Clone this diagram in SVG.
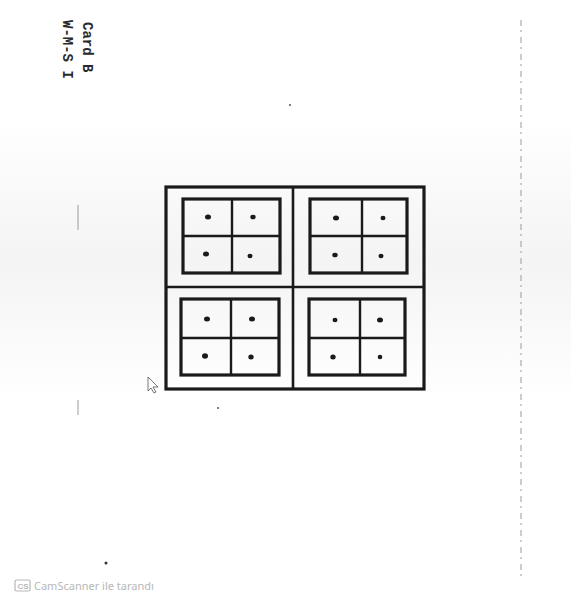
<svg xmlns="http://www.w3.org/2000/svg" width="571" height="597" viewBox="0 0 571 597">
  <defs>
    <style>
      .frame { fill: none; stroke: #1a1a1a; stroke-width: 3.2; }
      .div { fill: none; stroke: #1a1a1a; stroke-width: 2.6; }
      .inner { fill: none; stroke: #1a1a1a; stroke-width: 3.2; }
      .mid { stroke: #1a1a1a; stroke-width: 2.4; }
      .dot { fill: #1a1a1a; }
      .label { font-family: "Liberation Mono", "DejaVu Sans Mono", monospace; font-size: 14px; font-weight: bold; fill: #2a2a2a; }
      .wm { font-family: "Noto Sans", "Liberation Sans", sans-serif; font-size: 11px; fill: #b8b8b8; }
      .faint { stroke: #9a9a9a; stroke-width: 1; fill: none; }
    </style>
    <linearGradient id="scan" x1="0" y1="0" x2="0" y2="1">
      <stop offset="0" stop-color="#ffffff"/>
      <stop offset="0.5" stop-color="#f1f1f1"/>
      <stop offset="1" stop-color="#ffffff"/>
    </linearGradient>
  </defs>
  <rect x="0" y="0" width="571" height="597" fill="#ffffff"/>
  <rect x="0" y="120" width="571" height="280" fill="url(#scan)" opacity="0.8"/>

  <g id="labels">
    <text class="label" transform="translate(83,22) rotate(90)">Card B</text>
    <text class="label" transform="translate(63,20) rotate(90)">W-M-S I</text>
  </g>

  <g id="card">
    <rect class="frame" x="166" y="187" width="258" height="202"/>
    <line class="div" x1="293" y1="187" x2="293" y2="389"/>
    <line class="div" x1="166" y1="287" x2="424" y2="287"/>
  </g>

  <g id="quad-top-left">
    <rect class="inner" x="183" y="199" width="97" height="74"/>
    <line class="mid" x1="232" y1="199" x2="232" y2="273"/>
    <line class="mid" x1="183" y1="236" x2="280" y2="236"/>
    <ellipse class="dot" cx="208" cy="217" rx="3" ry="2.5"/>
    <ellipse class="dot" cx="253" cy="217" rx="2.7" ry="2.3"/>
    <ellipse class="dot" cx="206" cy="254" rx="3" ry="2.5"/>
    <ellipse class="dot" cx="250" cy="256" rx="2.5" ry="2.3"/>
  </g>

  <g id="quad-top-right">
    <rect class="inner" x="310" y="199" width="97" height="74"/>
    <line class="mid" x1="362" y1="199" x2="362" y2="273"/>
    <line class="mid" x1="310" y1="236" x2="407" y2="236"/>
    <ellipse class="dot" cx="336" cy="218" rx="3" ry="2.5"/>
    <ellipse class="dot" cx="383" cy="218" rx="2.5" ry="2.3"/>
    <ellipse class="dot" cx="335" cy="255" rx="2.7" ry="2.3"/>
    <ellipse class="dot" cx="381" cy="256" rx="2.5" ry="2.3"/>
  </g>

  <g id="quad-bottom-left">
    <rect class="inner" x="181" y="299" width="98" height="76"/>
    <line class="mid" x1="231" y1="299" x2="231" y2="375"/>
    <line class="mid" x1="181" y1="338" x2="279" y2="338"/>
    <ellipse class="dot" cx="207" cy="319" rx="3" ry="2.5"/>
    <ellipse class="dot" cx="252" cy="319" rx="3" ry="2.5"/>
    <ellipse class="dot" cx="205" cy="356" rx="3" ry="2.7"/>
    <ellipse class="dot" cx="251" cy="357" rx="2.7" ry="2.5"/>
  </g>

  <g id="quad-bottom-right">
    <rect class="inner" x="309" y="299" width="96" height="76"/>
    <line class="mid" x1="360" y1="299" x2="360" y2="375"/>
    <line class="mid" x1="309" y1="338" x2="405" y2="338"/>
    <ellipse class="dot" cx="335" cy="320" rx="2.5" ry="2.3"/>
    <ellipse class="dot" cx="380" cy="320" rx="3" ry="2.5"/>
    <ellipse class="dot" cx="333" cy="357" rx="2.7" ry="2.5"/>
    <ellipse class="dot" cx="380" cy="357" rx="2.3" ry="2.3"/>
  </g>

  <g id="connectors"></g>

  <g id="marks">
    <path d="M148,377 L148,391 L151,388 L154,393 L156,392 L153,387 L158,387 Z" fill="#ffffff" stroke="#555" stroke-width="0.8"/>
    <line class="faint" x1="521" y1="20" x2="521" y2="580" stroke-dasharray="6 4 2 5"/>
    <line class="faint" x1="78" y1="205" x2="78" y2="230"/>
    <line class="faint" x1="78" y1="400" x2="78" y2="415"/>
    <circle cx="106" cy="563" r="1.5" fill="#333"/>
    <circle cx="218" cy="408" r="1" fill="#555"/>
    <circle cx="290" cy="105" r="1" fill="#555"/>
  </g>

  <g id="watermark">
    <rect x="15" y="580" width="15" height="11" rx="1.5" fill="none" stroke="#b8b8b8" stroke-width="1.2"/>
    <text x="17.5" y="589" font-family="Liberation Sans, sans-serif" font-size="8" font-weight="bold" fill="#b8b8b8">CS</text>
    <text class="wm" x="34" y="590">CamScanner ile tarandı</text>
  </g>
</svg>
